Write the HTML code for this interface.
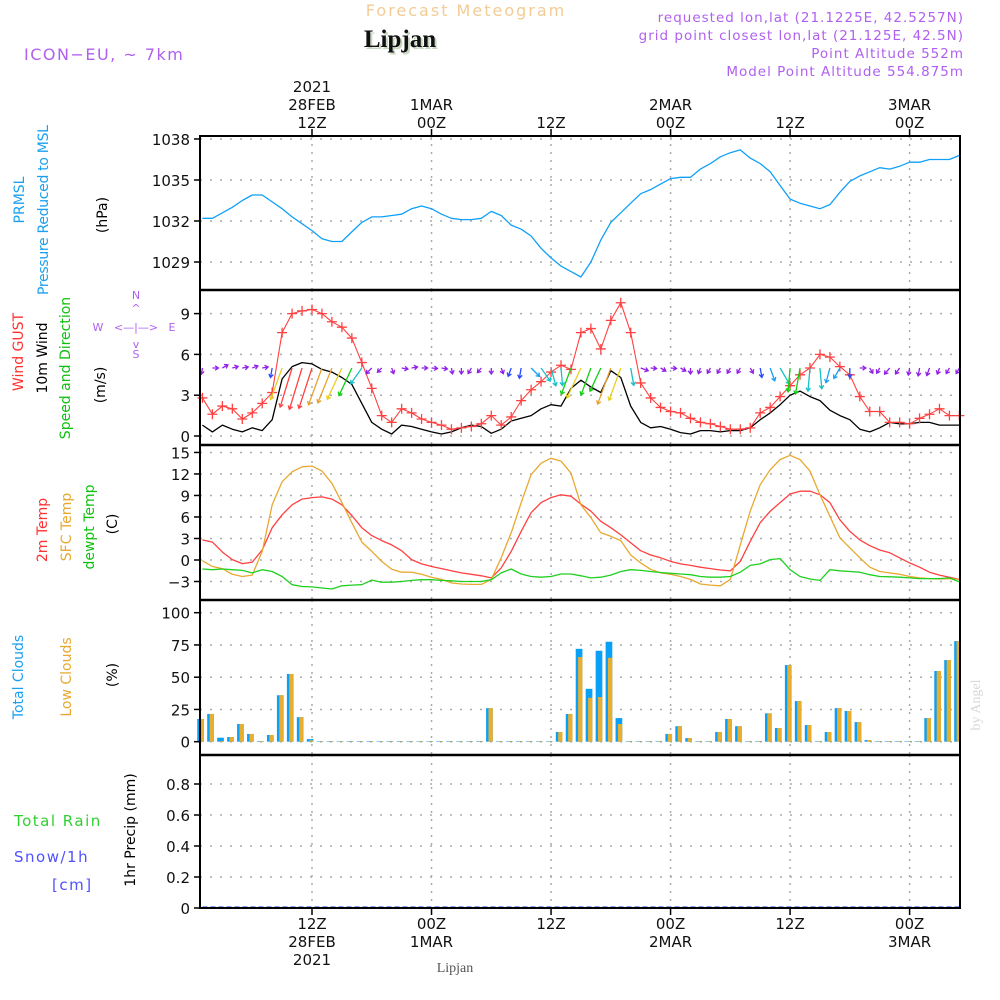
<!DOCTYPE html>
<html><head><meta charset="utf-8"><style>
body{margin:0;background:#fff;}
svg{display:block;font-family:"DejaVu Sans","Liberation Sans",sans-serif;}
.tk{font-size:15px;fill:#111;}
.lab{font-size:14px;}
</style></head><body>
<svg id="chart" width="1000" height="1000" viewBox="0 0 1000 1000" xmlns="http://www.w3.org/2000/svg">
<rect x="0" y="0" width="1000" height="1000" fill="#fff"/>
<text x="466" y="16" text-anchor="middle" font-size="16" fill="#f2cc94" letter-spacing="2">Forecast Meteogram</text>
<text x="402" y="49" text-anchor="middle" font-family="Liberation Serif,serif" font-weight="bold" font-size="25" fill="#c8d8c0">Lipjan</text>
<text x="400" y="47" text-anchor="middle" font-family="Liberation Serif,serif" font-weight="bold" font-size="25" fill="#111">Lipjan</text>
<text x="24" y="60" font-size="16" fill="#b060f0" letter-spacing="1.5">ICON−EU, ~ 7km</text>
<g font-size="13.5" fill="#b060f0" text-anchor="end" letter-spacing="1">
<text x="964" y="22">requested lon,lat (21.1225E, 42.5257N)</text>
<text x="964" y="40">grid point closest lon,lat (21.125E, 42.5N)</text>
<text x="964" y="58">Point Altitude 552m</text>
<text x="964" y="76">Model Point Altitude 554.875m</text>
</g>
<g id="toplabels" class="tk" text-anchor="middle"></g>
<g id="grid"></g>
<g id="marks"></g>
<g id="frames" fill="none" stroke="#000"></g>
<g id="ylabels" class="tk" text-anchor="end"></g>
<g class="lab">
<text transform="translate(24,200) rotate(-90)" text-anchor="middle" fill="#1aa0f0">PRMSL</text>
<text transform="translate(48,210) rotate(-90)" text-anchor="middle" fill="#1aa0f0" textLength="170">Pressure Reduced to MSL</text>
<text transform="translate(107,215) rotate(-90)" text-anchor="middle" fill="#000">(hPa)</text>
<text transform="translate(23,352) rotate(-90)" text-anchor="middle" fill="#ff3030">Wind GUST</text>
<text transform="translate(47,358) rotate(-90)" text-anchor="middle" fill="#000">10m Wind</text>
<text transform="translate(70,368) rotate(-90)" text-anchor="middle" fill="#10c010">Speed and Direction</text>
<text transform="translate(105,385) rotate(-90)" text-anchor="middle" fill="#000">(m/s)</text>
<text transform="translate(47,530) rotate(-90)" text-anchor="middle" fill="#ff3030">2m Temp</text>
<text transform="translate(71,527) rotate(-90)" text-anchor="middle" fill="#e8a830">SFC Temp</text>
<text transform="translate(94,527) rotate(-90)" text-anchor="middle" fill="#10c010">dewpt Temp</text>
<text transform="translate(117,524) rotate(-90)" text-anchor="middle" fill="#000">(C)</text>
<text transform="translate(23,677) rotate(-90)" text-anchor="middle" fill="#1aa0f0">Total Clouds</text>
<text transform="translate(71,677) rotate(-90)" text-anchor="middle" fill="#e8a830">Low Clouds</text>
<text transform="translate(117,675) rotate(-90)" text-anchor="middle" fill="#000">(%)</text>
<text transform="translate(135,830) rotate(-90)" text-anchor="middle" fill="#000">1hr Precip (mm)</text>
</g>
<g font-size="15" letter-spacing="1.5">
<text x="14" y="826" fill="#30d030">Total   Rain</text>
<text x="14" y="862" fill="#5050ff">Snow/1h</text>
<text x="52" y="890" fill="#5050ff">[cm]</text>
</g>
<g fill="#b060f0" font-size="11" text-anchor="middle">
<text x="136" y="299">N</text><text x="136" y="358">S</text><text x="98" y="331">W</text><text x="172" y="331">E</text>
<text x="136" y="312">^</text><text x="136" y="348">v</text>
<text x="136" y="331">&lt;—|—&gt;</text>
</g>
<text transform="translate(980,705) rotate(-90)" text-anchor="middle" font-family="Liberation Serif,serif" font-size="14" fill="#d8d8d8">by Angel</text>
<text x="455" y="972" text-anchor="middle" font-family="Liberation Serif,serif" font-size="14" fill="#555">Lipjan</text>
</svg>
<script>
const pressure=[1032.2,1032.2,1032.6,1033.0,1033.5,1033.9,1033.9,1033.4,1032.9,1032.3,1031.8,1031.3,1030.7,1030.5,1030.5,1031.2,1031.9,1032.3,1032.3,1032.4,1032.5,1032.9,1033.1,1032.9,1032.5,1032.2,1032.1,1032.1,1032.2,1032.7,1032.4,1031.7,1031.4,1030.9,1030.0,1029.3,1028.7,1028.3,1027.9,1029.0,1030.6,1031.9,1032.6,1033.3,1034.0,1034.3,1034.7,1035.1,1035.2,1035.2,1035.8,1036.2,1036.7,1037.0,1037.2,1036.6,1036.2,1035.6,1034.6,1033.6,1033.3,1033.1,1032.9,1033.2,1034.1,1034.9,1035.3,1035.6,1035.9,1035.8,1036.0,1036.3,1036.3,1036.5,1036.5,1036.5,1036.8];
const gust=[2.8,1.6,2.2,2.0,1.25,1.7,2.4,3.2,7.6,9.0,9.2,9.3,9.0,8.4,8.0,7.2,5.4,3.5,1.5,1.0,2.0,1.7,1.25,1.0,0.8,0.5,0.6,0.7,0.9,1.5,0.8,1.4,2.6,3.4,4.0,4.7,5.2,4.9,7.6,7.9,6.4,8.5,9.8,7.6,3.9,2.8,2.1,1.8,1.7,1.3,1.0,0.9,0.7,0.5,0.5,0.6,1.7,2.1,2.9,3.7,4.5,5.0,6.0,5.8,5.1,4.5,2.9,1.8,1.8,1.0,1.0,0.9,1.3,1.6,2.0,1.5,1.5];
const wind=[0.8,0.3,0.8,0.5,0.3,0.6,0.4,1.2,4.2,5.1,5.4,5.3,4.9,4.7,4.3,3.8,2.4,1.0,0.5,0.15,0.8,0.7,0.5,0.3,0.15,0.3,0.6,0.8,0.7,0.2,0.5,1.1,1.3,1.5,2.0,2.3,2.2,3.5,4.1,3.6,3.2,4.8,4.3,2.2,1.0,0.6,0.7,0.5,0.25,0.15,0.4,0.4,0.3,0.4,0.4,0.6,1.2,1.7,2.3,3.0,3.3,2.9,2.6,1.9,1.5,1.2,0.5,0.3,0.6,1.0,0.9,0.9,1.0,1.0,0.8,0.8,0.8];
const windDir=[190,90,60,75,80,70,80,190,200,197,197,198,200,202,205,205,215,225,225,160,100,80,90,95,100,170,180,210,220,180,160,200,190,135,145,165,175,200,205,200,205,200,200,170,110,95,120,95,120,180,200,210,210,210,210,150,170,160,150,185,190,185,175,195,210,180,90,150,210,220,215,190,190,200,200,210,210];
const temp2m=[2.8,2.5,1.1,0.05,-0.5,-0.3,1.4,4.5,6.3,7.7,8.5,8.7,8.8,8.5,7.7,6.2,4.5,3.4,2.7,2.1,1.3,0.05,-0.55,-0.9,-1.2,-1.5,-1.8,-2.0,-2.2,-2.5,-1.1,1.2,4.0,6.6,8.0,8.7,9.1,8.9,7.8,6.8,5.4,4.5,3.5,2.4,1.3,0.7,0.3,-0.2,-0.55,-0.75,-1.0,-1.2,-1.4,-1.5,-0.2,2.6,5.2,6.8,8.0,9.2,9.6,9.6,9.1,8.0,5.6,4.0,2.8,2.0,1.4,1.0,0.3,-0.4,-1.0,-1.7,-2.1,-2.4,-2.7];
const tempSfc=[-0.1,-0.9,-1.2,-2.0,-2.3,-2.1,1.2,7.7,10.9,12.3,13.0,13.1,12.4,10.7,8.0,5.2,2.5,1.2,-0.2,-1.3,-1.7,-1.7,-2.0,-2.4,-2.7,-3.2,-3.35,-3.4,-3.4,-2.7,0.3,3.8,8.0,11.9,13.5,14.2,13.8,12.1,7.7,5.9,3.8,3.3,2.7,0.7,-0.4,-1.3,-1.8,-2.0,-2.3,-2.7,-3.35,-3.5,-3.6,-2.7,2.1,6.8,10.5,12.6,14.0,14.6,14.0,12.4,9.1,6.1,3.1,1.7,0.3,-1.0,-1.6,-1.8,-2.0,-2.3,-2.5,-2.6,-2.65,-2.6,-2.7];
const dewpt=[-1.25,-1.35,-1.25,-1.35,-1.45,-1.8,-1.35,-1.6,-2.3,-3.45,-3.7,-3.75,-3.9,-4.05,-3.6,-3.5,-3.45,-2.8,-3.1,-3.1,-3.0,-2.85,-2.75,-2.75,-2.85,-2.9,-3.0,-3.0,-3.0,-2.75,-1.8,-1.25,-1.95,-2.3,-2.4,-2.3,-1.95,-1.95,-2.2,-2.5,-2.4,-2.1,-1.6,-1.35,-1.45,-1.6,-1.75,-1.85,-1.95,-2.05,-2.3,-2.4,-2.4,-2.3,-1.7,-0.75,-0.55,0.05,0.2,-1.35,-2.3,-2.65,-2.85,-1.35,-1.5,-1.6,-1.7,-2.05,-2.3,-2.35,-2.4,-2.5,-2.6,-2.6,-2.6,-2.5,-3.05];
const totalClouds=[17.6,21.5,3.1,3.6,13.7,6,0.5,5.2,36,52.5,19,2,0.3,0.3,0.3,0.3,0.3,0.3,0.3,0.3,0.3,0.3,0.3,0.3,0.3,0.3,0.3,0.3,0.3,26,0.3,0.3,0.3,0.3,0.3,0.3,7.5,21.5,72,41,70.5,77.5,18.3,0.3,0.3,0.3,0.3,6,12,2.8,0.3,0.3,7.5,17.6,12,0.3,0.3,22,10.6,59.4,31.5,12.9,0.3,7.5,26,23.8,15.2,1.3,0.3,0.3,0.3,0.3,0.3,18.3,54.8,63.3,78];
const lowClouds=[17.6,21.5,0.5,3.6,13.7,6,0.5,5.2,36,52.5,19,1,0.3,0.3,0.3,0.3,0.3,0.3,0.3,0.3,0.3,0.3,0.3,0.3,0.3,0.3,0.3,0.3,0.3,26,0.3,0.3,0.3,0.3,0.3,0.3,7.5,21.5,65.6,34,34.6,65,13.7,0.3,0.3,0.3,0.3,6,12,2.8,0.3,0.3,7.5,17.6,12,0.3,0.3,22,10.6,59.4,31.5,12.9,0.3,7.5,26,23.8,15.2,1.3,0.3,0.3,0.3,0.3,0.3,18.3,54.8,63.3,78];
const precip=[0,0,0,0,0,0,0,0,0,0,0,0,0,0,0,0,0,0,0,0,0,0,0,0,0,0,0,0,0,0,0,0,0,0,0,0,0,0,0,0,0,0,0,0,0,0,0,0,0,0,0,0,0,0,0,0,0,0,0,0,0,0,0,0,0,0,0,0,0,0,0,0,0,0,0,0,0];
const pTicks=[1029,1032,1035,1038];
const wTicks=[0,3,6,9];
const tTicks=[-3,0,3,6,9,12,15];
const cTicks=[0,25,50,75,100];
const rTicks=[0,0.2,0.4,0.6,0.8];
const timeTickHours=[12,24,36,48,60,72];
const topTimeLabels=[["2021","28FEB","12Z"],["","1MAR","00Z"],["","","12Z"],["","2MAR","00Z"],["","","12Z"],["","3MAR","00Z"]];
const bottomTimeLabels=[["12Z","28FEB","2021"],["00Z","1MAR",""],["12Z","",""],["00Z","2MAR",""],["12Z","",""],["00Z","3MAR",""]];

const NS="http://www.w3.org/2000/svg";
const L=200,R=960;
const X=t=>312+(t-12)*9.96;
const hourOf=i=>i+1;
const yP=v=>221-(v-1032)*13.67;
const yW=v=>436-v*13.6;
const yT=v=>560-v*7.17;
const yC=v=>741.7-v*1.29;
const yR=v=>908-v*155;
function mk(tag,attrs,parent){const e=document.createElementNS(NS,tag);for(const k in attrs)e.setAttribute(k,attrs[k]);parent.appendChild(e);return e;}
const gridG=document.getElementById('grid'),marksG=document.getElementById('marks'),framesG=document.getElementById('frames'),ylabG=document.getElementById('ylabels'),topG=document.getElementById('toplabels');
const panels=[[136,290],[290,445],[445,600],[600,755],[755,908]];
panels.forEach(p=>{timeTickHours.forEach(h=>{
 const l=mk('line',{x1:X(h),x2:X(h),y1:p[0],y2:p[1],stroke:'#aaa','stroke-width':1.5,'stroke-dasharray':'2 6'},gridG);
 
 
});});
function hgrid(ticks,yf,fmt){ticks.forEach(v=>{
 const y=yf(v);
 const l=mk('line',{x1:L,x2:R,y1:y,y2:y,stroke:'#aaa','stroke-width':1.5,'stroke-dasharray':'2 8'},gridG);
 
 
 mk('line',{x1:L-6,x2:L,y1:y,y2:y,stroke:'#000','stroke-width':1.5},framesG);
 const t=mk('text',{x:L-10,y:y+6},ylabG);t.textContent=fmt?fmt(v):String(v);
 
 
});}
hgrid(pTicks,yP);hgrid(wTicks,yW);hgrid(tTicks,yT,v=>v<0?'−'+Math.abs(v):v);hgrid(cTicks,yC);hgrid(rTicks,yR);
timeTickHours.forEach((h,i)=>{
 mk('line',{x1:X(h),x2:X(h),y1:129,y2:136,stroke:'#000','stroke-width':1.5},framesG);
 mk('line',{x1:X(h),x2:X(h),y1:908,y2:915,stroke:'#000','stroke-width':1.5},framesG);
 topTimeLabels[i].forEach((s,j)=>{if(!s)return;const t=mk('text',{x:X(h),y:92+j*18},topG);t.textContent=s;
  
  });
 bottomTimeLabels[i].forEach((s,j)=>{if(!s)return;const t=mk('text',{x:X(h),y:929+j*18},topG);t.textContent=s;
  
  });
});
function drawLine(vals,yf,color,name,w){
 const pts=vals.map((v,i)=>X(hourOf(i)).toFixed(1)+','+yf(v).toFixed(1)).join(' ');
 const p=mk('polyline',{points:pts,fill:'none',stroke:color,'stroke-width':w||1.3,'stroke-linejoin':'round'},marksG);
 
 
}
totalClouds.forEach((v,i)=>{
 const x=X(hourOf(i))+1.5;
 const b=mk('rect',{x:x-6.7,y:yC(v),width:6.7,height:Math.max(0.5,yC(0)-yC(v)),fill:'#0aa0f8'},marksG);
 
 
 const lv=lowClouds[i];
 const o=mk('rect',{x:x-4.3,y:yC(lv),width:4.3,height:Math.max(0.5,yC(0)-yC(lv)),fill:'#e8ae30'},marksG);
 
 
});
drawLine(pressure,yP,'#10a0f8','pressure-line');
drawLine(temp2m,yT,'#ff4040','temp-2m-line');
drawLine(tempSfc,yT,'#e8a830','temp-sfc-line');
drawLine(dewpt,yT,'#20d020','dewpoint-line');
drawLine(wind,yW,'#000','wind-speed-line');
drawLine(gust,yW,'#ff4040','wind-gust-line',1.1);
gust.forEach((v,i)=>{
 const x=X(hourOf(i)),y=yW(v);
 const g=mk('path',{d:`M${x-5},${y}H${x+5}M${x},${y-5}V${y+5}`,stroke:'#ff4040','stroke-width':1.3},marksG);
 
 
});
const pr=mk('polyline',{points:precip.map((v,i)=>X(hourOf(i))+','+(yR(v)-1)).join(' '),fill:'none',stroke:'#4060ff','stroke-width':1.2,'stroke-dasharray':'5 3'},marksG);


function wcol(s){return s<1.05?'#9020e8':s<1.5?'#2848ff':s<2?'#18a0f8':s<3?'#18c0c8':s<4?'#10d010':s<4.6?'#e8d020':s<5?'#e8a030':'#ff4040';}
windDir.forEach((d,i)=>{
 const s=wind[i],len=Math.max(6,s*8),x0=X(hourOf(i)),y0=368;
 const a=d*Math.PI/180,dx=Math.sin(a),dy=-Math.cos(a);
 const x1=x0+dx*len,y1=y0+dy*len;
 const h=4,ax=Math.atan2(dy,dx);
 const p1x=x1-h*Math.cos(ax-0.6),p1y=y1-h*Math.sin(ax-0.6),p2x=x1-h*Math.cos(ax+0.6),p2y=y1-h*Math.sin(ax+0.6);
 const ar=mk('path',{d:`M${x0},${y0}L${x1},${y1}M${p1x},${p1y}L${x1},${y1}L${p2x},${p2y}`,stroke:wcol(s),'stroke-width':1.3,fill:'none'},marksG);
 
 
});
mk('rect',{x:L,y:136,width:R-L,height:772,fill:'none',stroke:'#000','stroke-width':2},framesG);
[290,445,600,755].forEach(y=>mk('line',{x1:L,x2:R,y1:y,y2:y,stroke:'#000','stroke-width':2.5},framesG));
</script>
</body></html>
